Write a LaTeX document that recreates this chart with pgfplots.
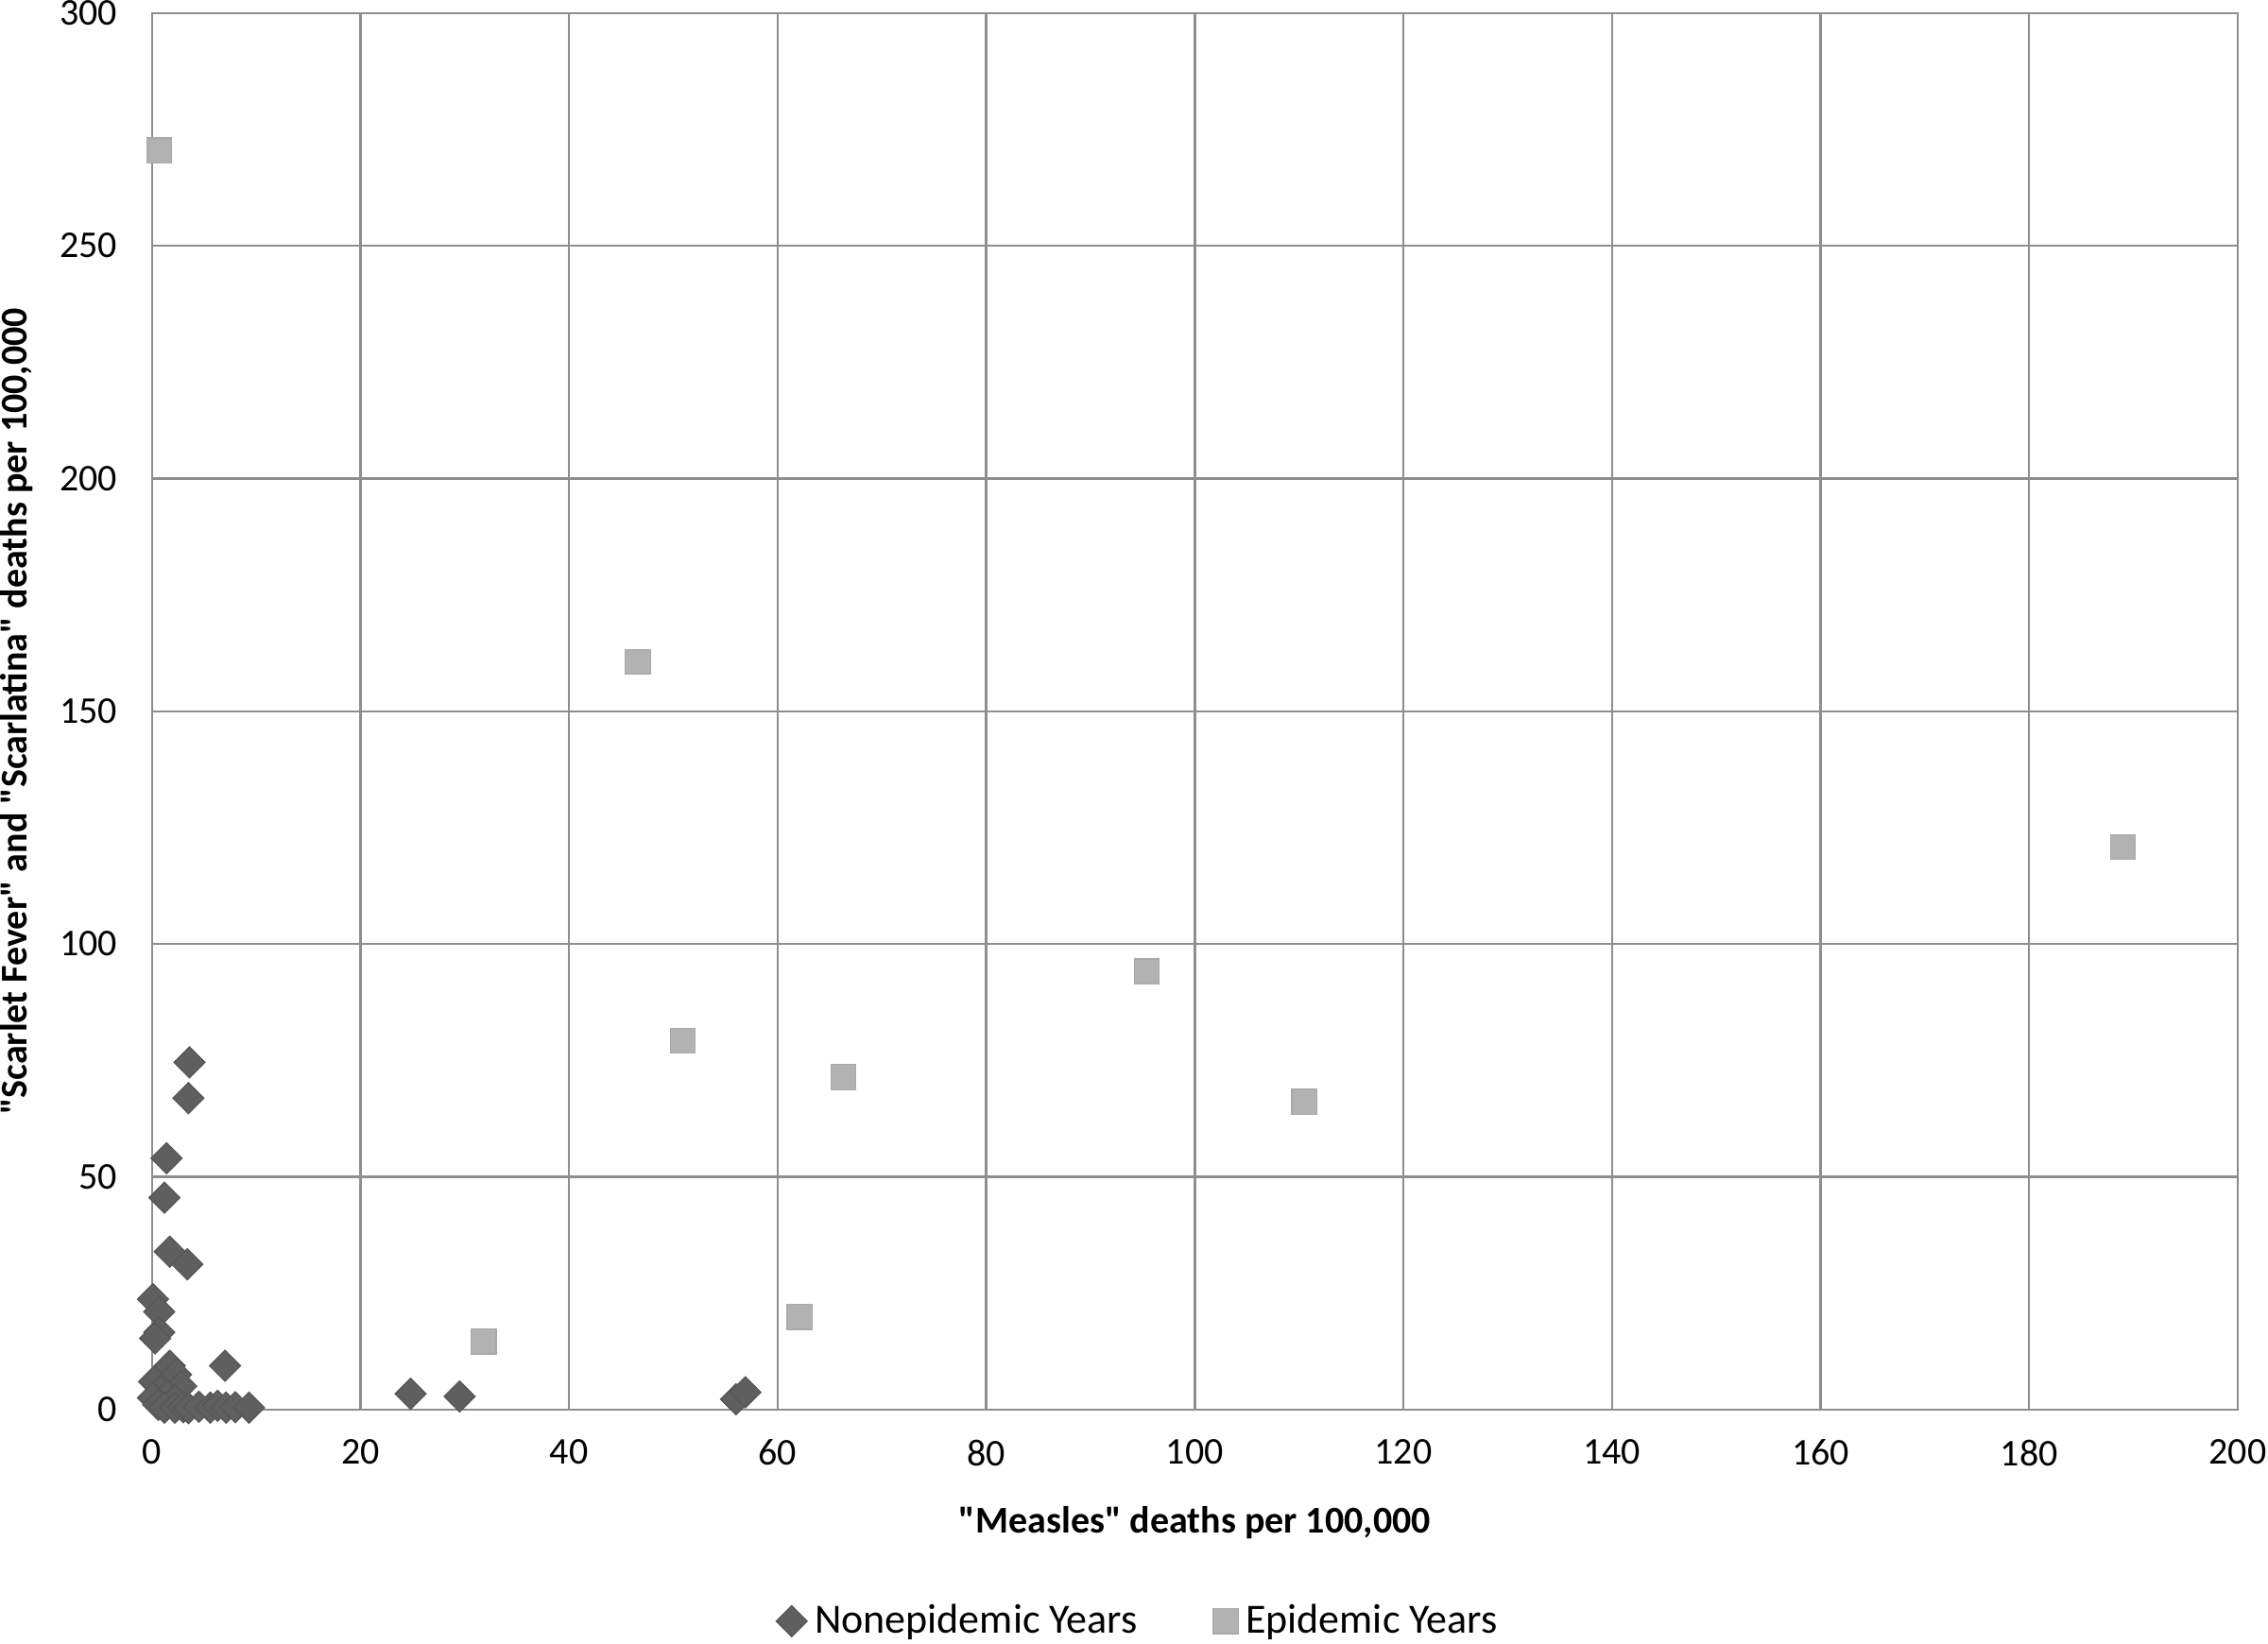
\documentclass[border=0pt]{standalone}
\usepackage{fontspec}
\setmainfont{Carlito}
\usepackage{pgfplots}
\pgfplotsset{compat=1.18}
\definecolor{nonepi}{HTML}{5F5F5F}
\definecolor{epi}{HTML}{B2B2B2}
\definecolor{gridgray}{HTML}{8E8E8E}

\begin{document}
\begin{tikzpicture}
\path[use as bounding box] (-40.2pt,-61.8pt) rectangle (559.8pt,372.95pt);
\begin{axis}[
  at={(0,0)}, anchor=south west,
  scale only axis,
  width=551.8pt, height=369.5pt,
  xmin=0, xmax=200, ymin=0, ymax=300,
  xtick distance=20, ytick distance=50,
  grid=major,
  grid style={gridgray, line width=0.6pt},
  axis line style={gridgray, line width=0.6pt},
  major tick length=0pt,
  clip=false,
  /pgf/number format/assume math mode=true,
  tick label style={font=\fontsize{10}{12}\selectfont},
  xticklabel style={yshift=-4.5pt},
  yticklabel style={xshift=-5.7pt},
  xlabel={\textquotedbl Measles\textquotedbl{} deaths per 100,000},
  ylabel={\textquotedbl Scarlet Fever\textquotedbl{} and \textquotedbl Scarlatina\textquotedbl{} deaths per 100,000},
  label style={font=\fontsize{10}{12}\selectfont\bfseries},
  xlabel style={at={(axis description cs:0.5,-0.0812)}, anchor=center},
  ylabel style={at={(axis description cs:-0.0647,0.5)}, anchor=center},
  legend columns=2,
  legend style={draw=none, at={(axis description cs:0.474,-0.1516)}, anchor=center,
    font=\fontsize{11}{13}\selectfont,
    /tikz/every even column/.append style={column sep=18pt}},
]
\addplot[only marks, mark=square*, mark size=2.9pt,
  mark options={rotate=45, fill=nonepi, draw=nonepi!90!black, line width=0.3pt}]
coordinates {
(3.6,74.6) (3.5,66.9) (1.4,54.0) (1.2,45.5) (1.7,33.9) (3.4,31.2)
(0.1,23.7) (0.7,21.0) (0.7,16.6) (0.3,15.3) (7.0,9.4) (1.7,9.4)
(2.3,7.5) (0.2,6.0) (2.8,5.0) (0.8,4.0) (1.5,3.0) (0.1,2.5)
(2.2,2.0) (0.6,1.0) (1.2,0.4) (2.2,0.4) (3.0,0.5) (3.5,0.3)
(4.5,0.6) (5.6,0.4) (6.3,0.8) (7.1,0.4) (8.0,0.5) (9.3,0.4)
(24.8,3.4) (29.5,2.8) (56.0,2.2) (56.9,3.7)
};
\addlegendentry{Nonepidemic Years}
\addplot[only marks, mark=square*, mark size=3.3pt,
  mark options={fill=epi, draw=epi!95!black, line width=0.3pt}]
coordinates {
(0.7,270.5) (46.6,160.6) (50.9,79.2) (66.3,71.4) (62.1,19.9)
(31.8,14.6) (95.4,94.1) (110.5,66.1) (189.0,120.8)
};
\addlegendentry{Epidemic Years}
\end{axis}
\end{tikzpicture}
\end{document}
